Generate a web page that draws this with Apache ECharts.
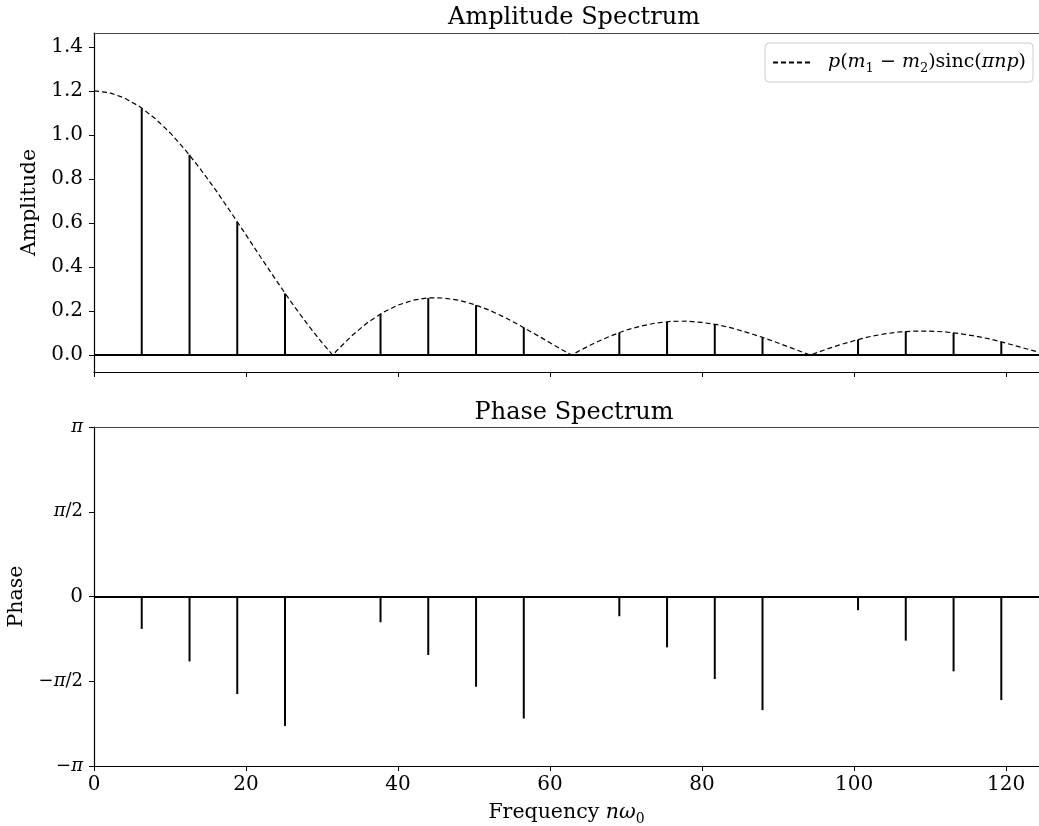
<!DOCTYPE html>
<html>
<head>
<meta charset="utf-8">
<script src="https://cdn.jsdelivr.net/npm/echarts@6/dist/echarts.min.js"></script>
<style>
  html, body { margin: 0; padding: 0; background: #fff; }
  #main { width: 1039px; height: 826px; }
</style>
</head>
<body>
<div id="main"></div>
<script>
// stem frequencies n*w0 (zero-amplitude harmonics are left out)
var freqs = [6.28, 12.57, 18.85, 25.13, 37.70, 43.98, 50.27, 56.55,
             69.12, 75.40, 81.68, 87.96, 100.53, 106.81, 113.10, 119.38];
var amplitudes = [1.12, 0.91, 0.605, 0.28, 0.187, 0.259, 0.227, 0.125,
                  0.102, 0.151, 0.14, 0.08, 0.07, 0.107, 0.101, 0.059];
var phases = [-0.600, -1.203, -1.809, -2.398, -0.477, -1.084, -1.673, -2.262,
              -0.366, -0.942, -1.530, -2.106, -0.254, -0.818, -1.388, -1.920];

// dashed envelope
var curveX = [0, 2, 4, 6, 8, 10, 12, 14, 16, 18, 20, 22, 24, 26, 28, 30, 31.42,
              32, 34, 36, 38, 40, 42, 44, 46, 48, 50, 52, 54, 56, 58, 60, 62, 62.83,
              64, 66, 68, 70, 72, 74, 76, 78, 80, 82, 84, 86, 88, 90, 92, 94.25,
              96, 98, 100, 102, 104, 106, 108, 110, 112, 114, 116, 118, 120, 122, 124, 124.34];
var curveY = [1.2, 1.192, 1.168, 1.129, 1.076, 1.010, 0.932, 0.845, 0.750, 0.649, 0.546, 0.441, 0.338, 0.238, 0.144, 0.056, 0,
              0.022, 0.090, 0.148, 0.193, 0.227, 0.249, 0.260, 0.259, 0.249, 0.230, 0.204, 0.172, 0.135, 0.096, 0.056, 0.016, 0,
              0.022, 0.057, 0.087, 0.113, 0.132, 0.146, 0.153, 0.154, 0.148, 0.138, 0.122, 0.102, 0.080, 0.055, 0.029, 0,
              0.022, 0.045, 0.065, 0.083, 0.096, 0.105, 0.109, 0.109, 0.105, 0.097, 0.086, 0.072, 0.054, 0.035, 0.016, 0.012];

var xTicks = [0, 20, 40, 60, 80, 100, 120];
var ampTicks = [0, 0.2, 0.4, 0.6, 0.8, 1.0, 1.2, 1.4];
var phaseTicks = [-Math.PI, -Math.PI / 2, 0, Math.PI / 2, Math.PI];
var phaseTickLabels = ['{n|−}{p|π}', '{n|−}{p|π}{n|/2}', '{z|0}', '{p|π}{n|/2}', '{p|π}'];

var FONT = 'DejaVu Serif';
var chart = echarts.init(document.getElementById('main'));

var piRich = {
  p: { fontFamily: FONT, fontStyle: 'italic', fontSize: 18, color: '#000' },
  n: { fontFamily: FONT, fontSize: 18, color: '#000' },
  z: { fontFamily: FONT, fontSize: 20, color: '#000' }
};

function frameAxis(grid) {
  return {
    type: 'value', gridIndex: grid, position: 'top', min: 0, max: 124.34,
    axisLine: { show: true, onZero: false, lineStyle: { color: '#444', width: 1 } },
    axisTick: { show: false }, axisLabel: { show: false }, splitLine: { show: false }
  };
}

chart.setOption({
  animation: false,
  backgroundColor: '#fff',
  title: [
    { text: 'Amplitude Spectrum', left: 569, top: 1, textAlign: 'center',
      textStyle: { fontFamily: FONT, fontWeight: 'normal', fontSize: 24, color: '#000' } },
    { text: 'Phase Spectrum', left: 569, top: 396, textAlign: 'center',
      textStyle: { fontFamily: FONT, fontWeight: 'normal', fontSize: 24, color: '#000' } }
  ],
  legend: {
    data: ['curve'],
    right: 6, top: 43,
    padding: [7, 7, 7, 7],
    borderColor: '#ccc', borderWidth: 1, borderRadius: 4,
    itemWidth: 40, itemHeight: 14, itemGap: 10,
    itemStyle: { opacity: 0 },
    formatter: function () {
      return '{sp|}{i|p}({i|m}{s|1} − {i|m}{s|2})sinc({i|πnp})';
    },
    textStyle: {
      fontFamily: FONT, fontSize: 19, color: '#000', lineHeight: 25,
      rich: {
        sp: { width: 10 },
        i: { fontFamily: FONT, fontStyle: 'italic', fontSize: 19, lineHeight: 25 },
        s: { fontFamily: FONT, fontSize: 13, lineHeight: 13, verticalAlign: 'bottom' }
      }
    }
  },
  grid: [
    { left: 94, top: 33, width: 945, height: 339, outerBoundsMode: 'none' },
    { left: 94, top: 427, width: 945, height: 339, outerBoundsMode: 'none' }
  ],
  xAxis: [
    {
      type: 'value', gridIndex: 0, min: 0, max: 124.34,
      axisLine: { show: true, onZero: false, lineStyle: { color: '#000', width: 1.2 } },
      axisTick: { show: true, length: 5, customValues: xTicks, lineStyle: { color: '#000' } },
      axisLabel: { show: false },
      splitLine: { show: false }
    },
    {
      type: 'value', gridIndex: 1, min: 0, max: 124.34,
      name: '{t|Frequency }{i|nω}{s|0}', nameLocation: 'middle', nameGap: 33,
      nameTextStyle: {
        fontFamily: FONT, fontSize: 20.5, color: '#000', lineHeight: 27,
        rich: {
          t: { fontFamily: FONT, fontSize: 20.5, lineHeight: 27 },
          i: { fontFamily: FONT, fontStyle: 'italic', fontSize: 20.5, lineHeight: 27 },
          s: { fontFamily: FONT, fontSize: 14, lineHeight: 14, verticalAlign: 'bottom' }
        }
      },
      axisLine: { show: true, onZero: false, lineStyle: { color: '#000', width: 1.2 } },
      axisTick: { show: true, length: 5, customValues: xTicks, lineStyle: { color: '#000' } },
      axisLabel: { show: true, customValues: xTicks, margin: 9,
        fontFamily: FONT, fontSize: 20, color: '#000' },
      splitLine: { show: false }
    },
    frameAxis(0),
    frameAxis(1)
  ],
  yAxis: [
    {
      type: 'value', gridIndex: 0, min: -0.077, max: 1.463,
      name: 'Amplitude', nameLocation: 'middle', nameGap: 51,
      nameTextStyle: { fontFamily: FONT, fontSize: 20.5, color: '#000' },
      axisLine: { show: true, onZero: false, lineStyle: { color: '#000', width: 1.2 } },
      axisTick: { show: true, length: 5, customValues: ampTicks, lineStyle: { color: '#000' } },
      axisLabel: { show: true, customValues: ampTicks, margin: 11,
        fontFamily: FONT, fontSize: 20, color: '#000',
        formatter: function (v) { return v.toFixed(1); } },
      splitLine: { show: false }
    },
    {
      type: 'value', gridIndex: 1, min: -Math.PI, max: Math.PI,
      name: 'Phase', nameLocation: 'middle', nameGap: 66,
      nameTextStyle: { fontFamily: FONT, fontSize: 20.5, color: '#000' },
      axisLine: { show: true, onZero: false, lineStyle: { color: '#000', width: 1.2 } },
      axisTick: { show: true, length: 5, customValues: phaseTicks, lineStyle: { color: '#000' } },
      axisLabel: { show: true, customValues: phaseTicks, margin: 11, rich: piRich,
        formatter: function (v) {
          var i = phaseTicks.findIndex(function (t) { return Math.abs(t - v) < 1e-6; });
          return i >= 0 ? phaseTickLabels[i] : '';
        } },
      splitLine: { show: false }
    }
  ],
  series: [
    {
      name: 'curve', type: 'line', xAxisIndex: 0, yAxisIndex: 0,
      data: curveX.map(function (x, i) { return [x, curveY[i]]; }),
      symbol: 'none', showSymbol: false, smooth: false,
      itemStyle: { color: '#000' },
      lineStyle: { color: '#000', width: 1.2, type: [5, 3] },
      z: 3
    },
    {
      name: 'amp', type: 'bar', xAxisIndex: 0, yAxisIndex: 0,
      data: freqs.map(function (f, i) { return [f, amplitudes[i]]; }),
      barWidth: 2, itemStyle: { color: '#000' },
      markLine: {
        silent: true, symbol: ['none', 'none'], label: { show: false },
        lineStyle: { color: '#000', width: 2, type: 'solid' },
        data: [{ yAxis: 0 }]
      },
      z: 2
    },
    {
      name: 'phase', type: 'bar', xAxisIndex: 1, yAxisIndex: 1,
      data: freqs.map(function (f, i) { return [f, phases[i]]; }),
      barWidth: 2, itemStyle: { color: '#000' },
      markLine: {
        silent: true, symbol: ['none', 'none'], label: { show: false },
        lineStyle: { color: '#000', width: 2, type: 'solid' },
        data: [{ yAxis: 0 }]
      },
      z: 2
    }
  ]
});
</script>
</body>
</html>
